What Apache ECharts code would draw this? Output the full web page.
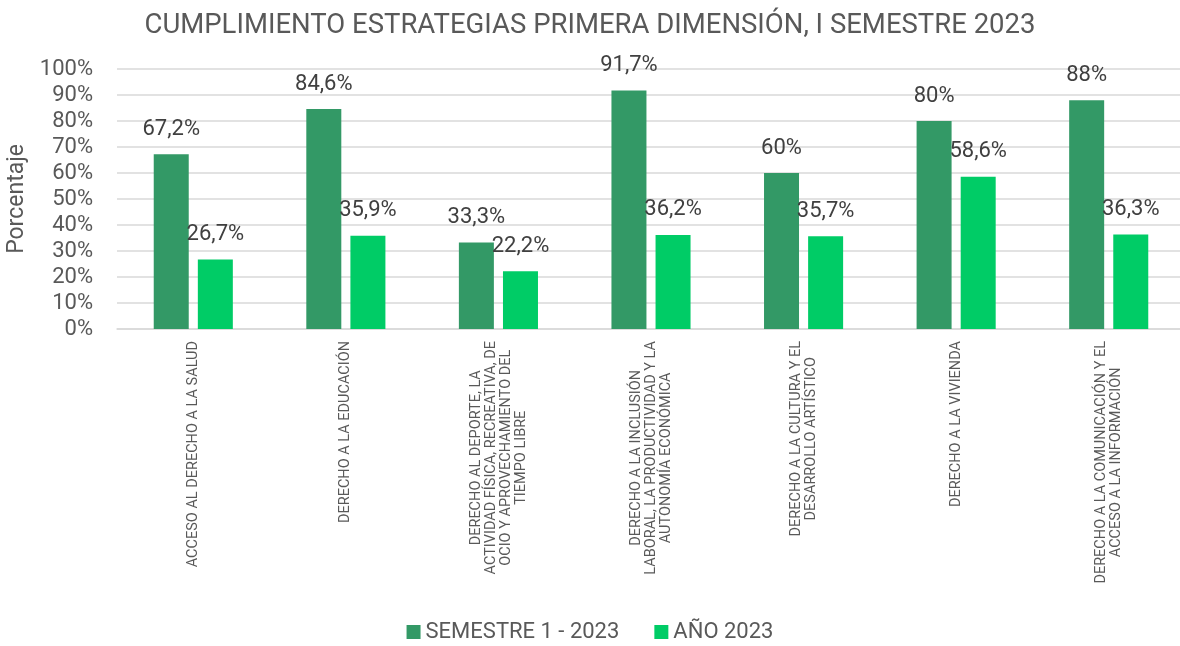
<!DOCTYPE html>
<html>
<head>
<meta charset="utf-8">
<script src="https://cdn.jsdelivr.net/npm/echarts@6/dist/echarts.min.js"></script>
<style>
  html, body { margin: 0; padding: 0; background: #fff; }
  #main { width: 1180px; height: 646px; }
</style>
</head>
<body>
<div id="main"></div>
<script>
// datos
var categorias = [
    'ACCESO AL DERECHO A LA SALUD',
    'DERECHO A LA EDUCACIÓN',
    'DERECHO AL DEPORTE, LA\nACTIVIDAD FÍSICA, RECREATIVA, DE\nOCIO Y APROVECHAMIENTO DEL\nTIEMPO LIBRE',
    'DERECHO A LA INCLUSIÓN\nLABORAL, LA PRODUCTIVIDAD Y LA\nAUTONOMÍA ECONÓMICA',
    'DERECHO A LA CULTURA Y EL\nDESARROLLO ARTÍSTICO',
    'DERECHO A LA VIVIENDA',
    'DERECHO A LA COMUNICACIÓN Y EL\nACCESO A LA INFORMACIÓN'
];
var semestre1 = [67.2, 84.6, 33.3, 91.7, 60, 80, 88];
var anio2023 = [26.7, 35.9, 22.2, 36.2, 35.7, 58.6, 36.3];
var nombres = ['SEMESTRE 1 - 2023', 'AÑO 2023'];
var colores = ['#339966', '#00CC66'];

var fuente = 'Roboto, "Noto Sans", sans-serif';

function etiquetaValor(p) {
    return String(p.value).replace('.', ',') + '%';
}

var dom = document.getElementById('main');
var myChart = echarts.init(dom);

var option = {
    backgroundColor: '#fff',
    color: colores,
    textStyle: { fontFamily: fuente },
    title: {
        text: 'CUMPLIMIENTO ESTRATEGIAS PRIMERA DIMENSIÓN, I SEMESTRE 2023',
        left: 'center',
        top: 7,
        textStyle: { fontSize: 27.5, fontWeight: 'normal', color: '#595959', fontFamily: fuente }
    },
    legend: {
        bottom: -2,
        left: 'center',
        itemWidth: 14,
        itemHeight: 14,
        itemGap: 35,
        icon: 'rect',
        textStyle: { fontSize: 22, color: '#595959', fontFamily: fuente },
        data: nombres
    },
    grid: {
        left: 117,
        right: -5,
        top: 69,
        bottom: 317,
        outerBoundsMode: 'none',
        containLabel: false
    },
    xAxis: {
        type: 'category',
        data: categorias,
        axisTick: { show: false },
        axisLine: { lineStyle: { color: '#d9d9d9', width: 1.5 } },
        axisLabel: {
            interval: 0,
            rotate: 90,
            margin: 12,
            formatter: function (v) {
                return v.split('\n').map(function (l) { return '{c|' + l + '}'; }).join('\n');
            },
            rich: {
                c: { align: 'center', fontSize: 14.5, lineHeight: 15, color: '#595959', fontFamily: fuente }
            }
        }
    },
    yAxis: {
        type: 'value',
        min: 0,
        max: 100,
        interval: 10,
        name: 'Porcentaje',
        nameLocation: 'middle',
        nameGap: 87,
        nameTextStyle: { fontSize: 23, color: '#595959', fontFamily: fuente },
        axisLabel: {
            formatter: '{value}%',
            fontSize: 22,
            margin: 24,
            color: '#595959'
        },
        axisLine: { show: false },
        axisTick: { show: false },
        splitLine: { lineStyle: { color: '#d9d9d9', width: 1.5 } }
    },
    series: [
        {
            name: nombres[0],
            type: 'bar',
            data: semestre1,
            barWidth: 35,
            barGap: '26%',
            label: {
                show: true,
                position: 'top',
                distance: 14,
                formatter: etiquetaValor,
                fontSize: 22,
                color: '#404040',
                fontFamily: fuente
            }
        },
        {
            name: nombres[1],
            type: 'bar',
            data: anio2023,
            barWidth: 35,
            label: {
                show: true,
                position: 'top',
                distance: 14,
                formatter: etiquetaValor,
                fontSize: 22,
                color: '#404040',
                fontFamily: fuente
            }
        }
    ]
};

myChart.setOption(option);
</script>
</body>
</html>
